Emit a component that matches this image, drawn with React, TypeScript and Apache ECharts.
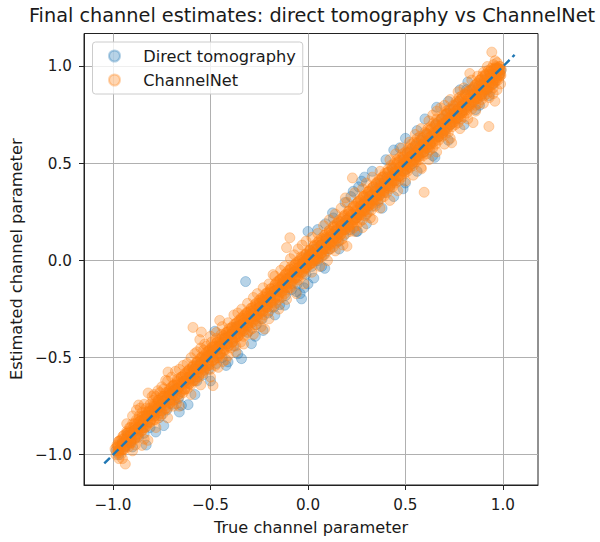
import React, { useEffect, useRef } from "react";
import * as echarts from "echarts";

const TITLE = "Final channel estimates: direct tomography vs ChannelNet";
const X_NAME = "True channel parameter";
const Y_NAME = "Estimated channel parameter";
const TICKS = [-1, -0.5, 0, 0.5, 1];
const IDENTITY = [[-1.045, -1.045], [1.06, 1.06]];

const directPoints = [
[-.985,-.98],[-.97,-1.0],[-.955,-.94],[-.94,-.96],[-.925,-.90],[-.91,-.93],[-.90,-.96],[-.885,-.87],[-.87,-.91],[-.855,-.85],[-.84,-.89],[-.825,-.80],[-.81,-.86],[-.795,-.79],[-.781,-.883],[-.77,-.76],[-.755,-.80],[-.74,-.72],[-.725,-.77],[-.71,-.69],[-.695,-.74],[-.68,-.66],[-.665,-.71],[-.649,-.746],[-.635,-.62],[-.615,-.742],[-.60,-.61],[-.585,-.56],[-.57,-.62],[-.555,-.53],[-.54,-.59],[-.525,-.50],[-.51,-.56],[-.495,-.47],[-.478,-.364],[-.47,-.53],[-.455,-.44],[-.44,-.50],[-.425,-.40],[-.41,-.522],[-.395,-.38],[-.38,-.44],[-.365,-.34],[-.341,-.505],[-.33,-.32],[-.32,-.108],[-.31,-.37],[-.29,-.428],[-.28,-.27],[-.265,-.33],[-.25,-.24],[-.235,-.30],[-.22,-.21],[-.205,-.27],[-.19,-.18],[-.175,-.24],[-.16,-.15],[-.145,-.227],[-.13,-.12],[-.115,-.18],[-.10,-.09],[-.085,-.15],[-.07,-.06],[-.055,-.12],[-.04,-.17],[-.033,-.197],[-.025,-.01],[-.01,-.07],[.005,.03],[.02,-.03],[.035,.06],[.05,.0],[.065,.08],[.08,.03],[.095,.11],[.11,.06],[.126,.246],[.14,.15],[.155,.10],[.17,.18],[.185,.13],[.20,.21],[.215,.16],[.232,.357],[.25,.22],[.254,.151],[.275,.409],[.285,.29],[.30,.24],[.315,.33],[.33,.28],[.345,.37],[.36,.31],[.375,.40],[.39,.35],[.405,.43],[.42,.38],[.435,.47],[.45,.41],[.471,.581],[.488,.37],[.49,.52],[.505,.47],[.52,.56],[.535,.50],[.55,.59],[.565,.54],[.58,.62],[.595,.56],[.61,.65],[.625,.60],[.651,.532],[.655,.70],[.67,.64],[.685,.73],[.70,.67],[.715,.76],[.73,.70],[.745,.78],[.76,.73],[.775,.82],[.79,.77],[.814,.881],[.825,.80],[.84,.88],[.86,.778],[.875,.90],[.89,.85],[.905,.93],[.92,.88],[.935,.96],[.95,.91],[.965,.99],[.98,.96],[.99,.98],
];

const directEdgePoints = [
[-.06,-.16],[-.02,-.14],[.0,-.12],[.03,-.09],[-.12,-.23],[-.17,-.28],[-.23,-.36],[-.27,-.39],[-.36,-.48],[-.42,-.54],[-.50,-.62],[-.58,-.69],[-.66,-.78],[-.74,-.85],[-.83,-.95],[.05,.16],[.0,.15],[.09,.19],[.13,.22],[.19,.30],[.22,.33],[.26,.38],[.29,.43],[.33,.46],[.40,.52],[.44,.57],[.50,.63],[.56,.67],[.60,.73],[.66,.79],[.72,.82],[.78,.88],[.82,.92],[.249,.15],[.30,.19],[.38,.27],[.44,.33],[.50,.40],[.56,.46],[.64,.54],[.72,.62],[.80,.70],[.88,.80],[.93,.85],[.16,.06],[.086,-.04],[.07,-.03],
];

const channelNetPoints = [
[-.99,-.97],[-.985,-1.0],[-.98,-.95],[-.975,-.98],[-.97,-.93],[-.965,-.97],[-.96,-1.0],[-.955,-.92],[-.952,-1.02],[-.95,-.95],[-.945,-.90],[-.94,-.97],[-.937,-1.048],[-.93,-.89],[-.925,-.93],[-.92,-.96],[-.915,-.86],[-.91,-.90],[-.905,-.94],[-.90,-.84],[-.895,-.88],[-.89,-.92],[-.885,-.95],[-.88,-.82],[-.875,-.86],[-.87,-.90],[-.869,-.744],[-.865,-.80],[-.86,-.84],[-.855,-.88],[-.852,-.952],[-.85,-.78],[-.845,-.83],[-.84,-.86],[-.835,-.80],[-.83,-.76],[-.825,-.84],[-.821,-.926],[-.82,-.682],[-.815,-.78],[-.81,-.74],[-.805,-.82],[-.80,-.77],[-.795,-.72],[-.79,-.80],[-.785,-.75],[-.78,-.70],[-.775,-.78],[-.77,-.73],[-.765,-.81],[-.76,-.68],[-.755,-.75],[-.75,-.71],[-.745,-.79],[-.74,-.66],[-.735,-.73],[-.73,-.617],[-.725,-.70],[-.72,-.76],[-.718,-.574],[-.71,-.67],[-.705,-.72],[-.70,-.65],[-.695,-.69],[-.69,-.75],[-.685,-.64],[-.675,-.737],[-.67,-.61],[-.665,-.66],[-.66,-.70],[-.65,-.60],[-.645,-.64],[-.64,-.68],[-.63,-.58],[-.625,-.63],[-.62,-.66],[-.61,-.56],[-.605,-.60],[-.60,-.64],[-.59,-.344],
[-.59,-.54],[-.585,-.59],[-.581,-.479],[-.58,-.62],[-.57,-.52],[-.565,-.56],[-.56,-.60],[-.555,-.407],[-.55,-.50],[-.547,-.368],[-.545,-.55],[-.54,-.58],[-.535,-.46],[-.53,-.51],[-.525,-.55],[-.52,-.44],[-.515,-.49],[-.51,-.53],[-.505,-.46],[-.50,-.56],[-.495,-.42],[-.49,-.48],[-.487,-.644],[-.485,-.51],[-.48,-.44],[-.475,-.54],[-.47,-.40],[-.465,-.46],[-.46,-.50],[-.455,-.42],[-.453,-.308],[-.45,-.48],[-.445,-.38],[-.44,-.44],[-.435,-.52],[-.43,-.40],[-.425,-.46],[-.42,-.37],[-.415,-.43],[-.41,-.49],[-.405,-.35],[-.40,-.40],[-.395,-.45],[-.39,-.37],[-.385,-.42],[-.38,-.33],[-.375,-.40],[-.37,-.44],[-.365,-.35],[-.36,-.39],[-.355,-.31],[-.35,-.37],[-.345,-.42],[-.34,-.30],[-.335,-.35],[-.33,-.39],[-.325,-.28],[-.32,-.33],[-.315,-.38],[-.31,-.27],[-.305,-.32],[-.30,-.36],[-.295,-.26],[-.29,-.30],[-.285,-.35],[-.28,-.24],[-.275,-.29],[-.27,-.33],[-.265,-.23],[-.26,-.28],[-.255,-.31],[-.25,-.22],[-.245,-.26],[-.24,-.30],[-.235,-.20],[-.23,-.25],[-.225,-.28],[-.222,-.352],[-.22,-.19],[-.215,-.24],[-.21,-.17],[-.205,-.22],[-.20,-.26],[-.195,-.16],[-.19,-.21],[-.185,-.24],[-.179,-.072],[-.175,-.14],[-.17,-.19],[-.165,-.22],[-.16,-.11],[-.155,-.16],[-.15,-.20],[-.145,-.10],[-.14,-.15],[-.135,-.19],[-.13,-.09],[-.125,-.13],[-.12,-.17],[-.115,-.07],[-.11,-.12],[-.105,-.15],[-.10,-.05],[-.095,-.10],[-.093,.118],[-.11,.067],[-.09,-.14],[-.085,-.03],[-.08,-.08],[-.075,-.12],[-.07,-.04],[-.065,-.09],[-.06,-.01],[-.055,-.06],[-.05,-.10],[-.045,-.02],[-.04,-.05],[-.035,.02],[-.03,-.03],[-.025,-.07],[-.02,.01],[-.015,-.04],[-.01,.03],[-.005,-.02],[0,.02],[.005,-.02],[.01,.05],[.015,.0],
[.02,.04],[.025,-.01],[.03,.07],[.035,.02],[.04,.0],[.045,.08],[.05,.03],[.055,.01],[.06,.09],[.065,.05],[.07,.02],[.075,.11],[.08,.06],[.085,.03],[.09,.12],[.095,.08],[.10,.05],[.105,.14],[.11,.09],[.115,.06],[.12,.15],[.125,.10],[.13,.07],[.135,.17],[.14,.12],[.145,.09],[.15,.19],[.155,.14],[.16,.10],[.165,.20],[.17,.15],[.175,.11],[.18,.22],[.185,.17],[.192,.323],[.195,.14],[.20,.074],[.205,.24],[.21,.18],[.215,.15],[.22,.25],[.228,.426],[.23,.20],[.235,.17],[.24,.28],[.245,.22],[.25,.18],[.255,.30],[.26,.24],[.265,.20],[.27,.31],[.275,.25],[.28,.21],[.285,.33],[.29,.27],[.295,.23],[.30,.34],[.305,.29],[.31,.25],[.315,.36],[.32,.30],[.325,.26],[.333,.211],[.335,.38],[.34,.32],[.345,.28],[.35,.40],[.355,.34],[.36,.30],[.365,.42],[.37,.36],[.375,.32],[.38,.43],[.385,.38],[.39,.33],[.395,.45],[.40,.39],[.405,.35],[.41,.47],[.415,.41],[.42,.37],[.425,.49],[.43,.43],[.435,.38],[.44,.50],[.445,.45],[.45,.40],[.455,.52],[.46,.46],[.465,.41],[.47,.53],[.475,.48],[.48,.43],[.485,.55],[.49,.50],[.495,.45],[.50,.56],[.505,.51],[.51,.46],[.515,.58],[.52,.53],[.525,.48],[.53,.60],[.535,.54],[.54,.49],[.545,.61],[.55,.56],[.555,.51],[.56,.63],[.565,.57],[.57,.52],[.575,.64],[.582,.473],[.585,.59],[.59,.54],[.596,.352],[.60,.66],[.605,.60],[.61,.55],[.615,.68],[.62,.62],[.625,.57],[.63,.69],[.635,.64],[.64,.58],[.645,.71],[.65,.65],[.655,.60],[.66,.73],[.665,.67],[.67,.62],[.68,.787],[.685,.70],[.69,.64],[.695,.75],[.70,.70],[.705,.65],[.71,.77],[.715,.72],[.72,.66],[.725,.78],[.73,.74],[.737,.607],[.74,.69],[.745,.80],[.75,.75],[.755,.70],[.76,.82],[.765,.77],[.77,.71],[.775,.84],[.78,.78],[.785,.73],[.79,.85],[.795,.80],[.80,.74],[.805,.86],[.81,.81],[.815,.76],[.82,.87],[.83,.964],[.835,.83],[.84,.78],[.847,.711],[.85,.89],[.855,.84],[.86,.80],[.865,.91],[.87,.86],[.875,.81],[.88,.93],[.885,.88],[.89,.83],[.895,.95],[.90,.89],[.905,.85],[.91,.96],[.915,.91],[.92,.86],[.925,.98],[.928,.691],[.93,.92],[.935,.87],[.94,.99],[.943,1.074],[.945,.94],[.95,.89],[.952,1.01],[.955,.96],[.959,.821],[.96,.92],[.965,1.0],[.97,.97],[.975,.93],[.98,.99],[.985,.95],[.988,.91],[.96,1.03],[.97,1.02],[.92,1.0],[.90,.97],
];

const channelNetCore = [
[-.982,-.962],[-.971,-.981],[-.963,-.928],[-.951,-.946],[-.947,-.972],[-.934,-.919],[-.928,-.888],[-.919,-.924],[-.912,-.887],[-.903,-.923],[-.896,-.886],[-.888,-.858],[-.879,-.894],[-.872,-.872],[-.861,-.826],[-.853,-.823],[-.847,-.862],[-.838,-.813],[-.829,-.794],[-.822,-.832],[-.814,-.799],[-.803,-.773],[-.796,-.776],[-.788,-.803],[-.779,-.749],[-.771,-.761],[-.762,-.737],[-.757,-.772],[-.748,-.728],[-.739,-.699],[-.731,-.746],[-.723,-.703],[-.714,-.684],[-.707,-.717],[-.698,-.673],[-.689,-.669],[-.681,-.696],[-.672,-.642],[-.664,-.654],[-.656,-.631],[-.647,-.662],[-.639,-.609],[-.631,-.621],[-.622,-.602],[-.614,-.629],[-.606,-.581],[-.598,-.578],[-.589,-.604],[-.581,-.556],[-.572,-.542],[-.564,-.574],[-.556,-.536],[-.548,-.523],[-.539,-.554],[-.531,-.506],[-.523,-.493],[-.514,-.529],[-.506,-.486],[-.498,-.473],[-.489,-.499],[-.481,-.461],[-.473,-.443],[-.464,-.479],[-.456,-.431],[-.447,-.427],[-.439,-.454],[-.431,-.411],[-.422,-.392],[-.414,-.429],[-.406,-.381],[-.397,-.387],[-.389,-.404],[-.381,-.361],[-.372,-.342],[-.364,-.379],[-.356,-.331],[-.347,-.342],[-.339,-.354],[-.331,-.306],[-.322,-.297],[-.314,-.334],[-.306,-.286],[-.297,-.292],[-.289,-.309],[-.281,-.256],[-.272,-.257],[-.264,-.284],[-.256,-.236],[-.247,-.242],[-.239,-.259],[-.231,-.206],[-.222,-.207],[-.214,-.234],[-.206,-.186],[-.197,-.192],[-.189,-.209],[-.181,-.161],[-.172,-.157],[-.164,-.184],[-.156,-.136],[-.147,-.142],[-.139,-.159],[-.131,-.111],[-.122,-.107],[-.114,-.134],[-.106,-.091],[-.097,-.092],[-.089,-.109],[-.081,-.061],[-.072,-.057],[-.064,-.084],[-.056,-.041],[-.047,-.052],[-.039,-.059],[-.031,-.011],[-.022,-.012],[-.014,-.034],[-.006,.009],[.003,-.002],[.011,-.014],[.019,.034],[.028,.013],[.036,.011],[.044,.059],[.053,.043],[.061,.036],[.069,.084],[.078,.063],[.086,.066],[.094,.114],[.103,.088],[.111,.091],[.119,.134],[.128,.113],[.136,.116],[.144,.159],[.153,.138],[.161,.141],[.169,.184],[.178,.163],[.186,.161],[.194,.209],[.203,.188],[.211,.186],[.219,.234],[.228,.213],[.236,.211],[.244,.259],[.253,.238],[.261,.236],[.269,.284],[.278,.263],[.286,.261],[.294,.309],[.303,.288],[.311,.286],[.319,.334],[.328,.313],[.336,.311],[.344,.359],[.353,.338],[.361,.336],[.369,.384],[.378,.363],[.386,.361],[.394,.409],[.403,.388],[.411,.386],[.419,.434],[.428,.413],[.436,.411],[.444,.459],[.453,.438],[.461,.436],[.469,.484],[.478,.463],[.486,.461],[.494,.509],[.503,.488],[.511,.486],
[.519,.534],[.528,.508],[.536,.516],[.544,.559],[.553,.528],[.561,.541],[.569,.584],[.578,.553],[.586,.566],[.594,.609],[.603,.578],[.611,.591],[.619,.634],[.628,.603],[.636,.616],[.644,.659],[.653,.628],[.661,.641],[.669,.684],[.678,.653],[.686,.666],[.694,.709],[.703,.678],[.711,.691],[.719,.734],[.728,.703],[.736,.716],[.744,.759],[.753,.728],[.761,.741],[.769,.784],[.778,.753],[.786,.766],[.794,.809],[.803,.778],[.811,.791],[.819,.834],[.828,.803],[.836,.816],[.844,.859],[.853,.828],[.861,.841],[.869,.884],[.878,.853],[.886,.866],[.894,.909],[.903,.878],[.911,.891],[.919,.934],[.928,.903],[.936,.916],[.944,.959],[.953,.928],[.961,.941],[.969,.984],[.978,.953],[.986,.966],[.992,.985],[.975,.975],[.965,.96],[.95,.95],[.94,.94],[.93,.93],
];

const channelNetBand = [
[-.976,-.955],[-.958,-.975],[-.942,-.915],[-.936,-.95],[-.921,-.885],[-.907,-.935],[-.893,-.855],[-.881,-.91],[-.868,-.83],[-.857,-.87],[-.842,-.80],[-.833,-.86],[-.818,-.775],[-.809,-.83],[-.792,-.75],[-.783,-.82],[-.767,-.72],[-.758,-.785],[-.744,-.70],[-.733,-.765],[-.717,-.675],[-.708,-.735],[-.691,-.645],[-.682,-.715],[-.668,-.625],[-.659,-.685],[-.642,-.595],[-.633,-.665],[-.617,-.57],[-.608,-.635],[-.593,-.55],[-.583,-.615],[-.568,-.525],[-.558,-.59],[-.543,-.495],[-.533,-.565],[-.518,-.47],[-.508,-.54],[-.492,-.445],[-.483,-.515],[-.467,-.42],[-.458,-.49],[-.442,-.395],[-.433,-.465],[-.417,-.37],[-.408,-.44],[-.392,-.345],[-.383,-.415],[-.367,-.32],[-.358,-.39],[-.342,-.295],[-.333,-.365],[-.317,-.27],[-.308,-.34],[-.292,-.245],[-.283,-.315],[-.267,-.22],[-.258,-.29],[-.242,-.195],[-.233,-.265],[-.217,-.17],[-.208,-.24],[-.192,-.145],[-.183,-.215],[-.167,-.12],[-.158,-.19],[-.142,-.095],[-.133,-.165],[-.117,-.07],[-.108,-.14],[-.092,-.045],[-.083,-.115],[-.067,-.02],[-.058,-.09],[-.042,.005],[-.033,-.065],[-.017,.03],[-.008,-.04],[.008,.055],[.017,-.015],[.033,.08],[.042,.01],[.058,.105],[.067,.035],[.083,.13],[.092,.06],[.108,.155],[.117,.085],[.133,.18],[.142,.11],[.158,.205],[.167,.135],[.183,.23],[.192,.16],[.208,.255],[.217,.185],[.233,.28],[.242,.21],[.258,.305],[.267,.235],[.283,.33],[.292,.26],[.308,.355],[.317,.285],[.333,.38],[.342,.31],[.358,.405],[.367,.335],[.383,.43],[.392,.36],[.408,.455],[.417,.385],[.433,.48],[.442,.41],[.458,.505],[.467,.435],[.483,.53],[.492,.46],[.508,.555],[.517,.485],[.533,.58],[.542,.51],[.558,.605],[.567,.535],[.583,.63],[.592,.56],[.608,.655],[.617,.585],[.633,.68],[.642,.61],[.658,.705],[.667,.635],[.683,.73],[.692,.66],[.708,.755],[.717,.685],[.733,.78],[.742,.71],[.758,.805],[.767,.735],[.783,.83],[.792,.76],[.808,.855],[.817,.785],[.833,.88],[.842,.81],[.858,.905],[.867,.835],[.883,.93],[.892,.86],[.908,.95],[.917,.885],[.933,.975],[.942,.905],[.958,.99],[.967,.93],[.983,1.0],[.99,.955],
];

const channelNetInner = [
[-.97,-.93],[-.97,-.96],[-.97,-.99],[-.95,-.905],[-.95,-.94],[-.95,-.975],[-.93,-.88],[-.93,-.92],[-.93,-.955],[-.91,-.86],[-.91,-.90],[-.91,-.94],[-.89,-.84],[-.89,-.875],[-.89,-.915],[-.87,-.82],[-.87,-.86],[-.87,-.895],[-.85,-.80],[-.85,-.84],[-.85,-.875],[-.83,-.78],[-.83,-.815],[-.83,-.855],[-.81,-.76],[-.81,-.80],[-.81,-.835],[-.79,-.74],[-.79,-.78],[-.79,-.82],[-.77,-.72],[-.77,-.755],[-.77,-.80],[-.75,-.70],[-.75,-.74],[-.75,-.775],[-.73,-.68],[-.73,-.72],[-.73,-.76],[-.71,-.66],[-.71,-.695],[-.71,-.735],[-.69,-.64],[-.69,-.68],[-.69,-.72],[-.67,-.62],[-.67,-.66],[-.67,-.695],[-.65,-.60],[-.65,-.635],[-.65,-.675],[-.63,-.585],[-.63,-.62],[-.63,-.66],[-.61,-.565],[-.61,-.60],[-.61,-.635],[-.59,-.545],[-.59,-.575],[-.59,-.62],[-.57,-.525],[-.57,-.56],[-.57,-.60],[-.55,-.505],[-.55,-.54],[-.55,-.575],[-.53,-.485],[-.53,-.515],[-.53,-.56],[-.51,-.465],[-.51,-.50],[-.51,-.54],[-.49,-.445],[-.49,-.48],[-.49,-.515],[-.47,-.425],[-.47,-.455],[-.47,-.50],[-.45,-.405],[-.45,-.44],[-.45,-.48],[-.43,-.385],[-.43,-.42],[-.43,-.455],[-.41,-.365],[-.41,-.395],[-.41,-.44],[-.39,-.345],[-.39,-.38],[-.39,-.42],[-.37,-.325],[-.37,-.36],[-.37,-.395],[-.35,-.305],[-.35,-.335],[-.35,-.38],[-.33,-.285],[-.33,-.32],[-.33,-.36],[-.31,-.265],[-.31,-.30],[-.31,-.335],[-.29,-.245],[-.29,-.275],[-.29,-.32],[-.27,-.225],[-.27,-.26],[-.27,-.30],[-.25,-.205],[-.25,-.24],[-.25,-.275],[-.23,-.185],[-.23,-.215],[-.23,-.26],[-.21,-.165],[-.21,-.20],[-.21,-.24],[-.19,-.145],[-.19,-.18],[-.19,-.215],[-.17,-.125],[-.17,-.155],[-.17,-.20],[-.15,-.105],[-.15,-.14],[-.15,-.18],[-.13,-.085],[-.13,-.12],[-.13,-.155],[-.11,-.065],[-.11,-.095],[-.11,-.14],[-.09,-.045],[-.09,-.08],[-.09,-.12],[-.07,-.025],[-.07,-.06],[-.07,-.095],[-.05,-.005],[-.05,-.035],[-.05,-.08],[-.03,.015],[-.03,-.02],[-.03,-.06],[-.01,.035],[-.01,.0],[-.01,-.035],
[.01,.055],[.01,.02],[.01,-.02],[.03,.075],[.03,.04],[.03,.0],[.05,.095],[.05,.06],[.05,.02],[.07,.115],[.07,.08],[.07,.04],[.09,.135],[.09,.10],[.09,.06],[.11,.155],[.11,.12],[.11,.08],[.13,.175],[.13,.135],[.13,.10],[.15,.195],[.15,.16],[.15,.115],[.17,.215],[.17,.18],[.17,.135],[.19,.235],[.19,.195],[.19,.16],[.21,.255],[.21,.22],[.21,.175],[.23,.275],[.23,.24],[.23,.195],[.25,.295],[.25,.255],[.25,.22],[.27,.315],[.27,.28],[.27,.235],[.29,.335],[.29,.30],[.29,.255],[.31,.355],[.31,.315],[.31,.28],[.33,.375],[.33,.34],[.33,.295],[.35,.395],[.35,.36],[.35,.315],[.37,.415],[.37,.375],[.37,.34],[.39,.435],[.39,.40],[.39,.355],[.41,.455],[.41,.42],[.41,.375],[.43,.475],[.43,.435],[.43,.40],[.45,.495],[.45,.46],[.45,.415],[.47,.515],[.47,.48],[.47,.435],[.49,.535],[.49,.495],[.49,.46],[.51,.555],[.51,.52],[.51,.475],[.53,.575],[.53,.54],[.53,.495],[.55,.595],[.55,.555],[.55,.52],[.57,.615],[.57,.58],[.57,.535],[.59,.635],[.59,.60],[.59,.555],[.61,.655],[.61,.615],[.61,.58],[.63,.675],[.63,.64],[.63,.595],[.65,.695],[.65,.66],[.65,.615],[.67,.715],[.67,.675],[.67,.64],[.69,.735],[.69,.70],[.69,.655],[.71,.755],[.71,.72],[.71,.675],[.73,.775],[.73,.735],[.73,.70],[.75,.795],[.75,.76],[.75,.715],[.77,.815],[.77,.78],[.77,.735],[.79,.835],[.79,.795],[.79,.76],[.81,.855],[.81,.82],[.81,.775],[.83,.875],[.83,.84],[.83,.795],[.85,.895],[.85,.855],[.85,.82],[.87,.915],[.87,.88],[.87,.835],[.89,.935],[.89,.90],[.89,.855],[.91,.955],[.91,.915],[.91,.88],[.93,.97],[.93,.94],[.93,.895],[.95,.985],[.95,.96],[.95,.915],[.97,.995],[.97,.975],[.97,.94],[.985,1.0],[.985,.985],[.985,.96],
];

const channelNetEdge = [
[-.93,-.84],[-.90,-.80],[-.88,-.77],[-.86,-.76],[-.84,-.74],[-.80,-.70],[-.79,-.69],[-.77,-.67],[-.75,-.65],[-.72,-.62],[-.70,-.60],[-.68,-.57],[-.66,-.56],[-.64,-.54],[-.62,-.53],[-.60,-.50],[-.57,-.47],[-.55,-.45],[-.53,-.43],[-.50,-.39],[-.47,-.37],[-.44,-.34],[-.41,-.32],[-.38,-.28],[-.36,-.27],[-.34,-.25],[-.31,-.22],[-.28,-.19],[-.26,-.17],[-.23,-.14],[-.20,-.12],[-.17,-.08],[-.14,-.05],[-.12,-.03],[-.09,.01],[-.07,.03],[-.05,.06],[-.03,.08],[-.01,.10],[.02,.12],[.05,.14],[.08,.18],[.11,.21],[.14,.24],[.17,.27],[.20,.30],[.24,.35],[.28,.37],[.30,.40],[.33,.43],[.37,.46],[.42,.52],[.45,.55],[.48,.58],[.52,.61],[.55,.65],[.58,.68],[.62,.72],[.64,.75],[.66,.77],[.70,.80],[.73,.83],[.77,.87],[.80,.89],[.84,.93],[.87,.95],
[-.97,-1.02],[-.90,-.98],[-.84,-.92],[-.78,-.86],[-.72,-.81],[-.66,-.75],[-.60,-.69],[-.55,-.64],[-.50,-.60],[-.46,-.55],[-.42,-.51],[-.37,-.47],[-.33,-.43],[-.28,-.38],[-.24,-.34],[-.20,-.30],[-.15,-.25],[-.11,-.20],[-.06,-.17],[-.02,-.12],[.02,-.06],[.06,-.03],[.10,.0],[.14,.05],[.18,.08],[.24,.15],[.28,.17],[.32,.22],[.37,.27],[.42,.31],[.46,.36],[.50,.41],[.54,.44],[.58,.48],[.62,.52],[.66,.56],[.70,.60],[.73,.63],[.78,.68],[.82,.73],[.86,.77],[.90,.81],[.93,.84],[.95,.86],[.97,.88],
];

const FONT = "DejaVu Sans";
const BLUE = "rgba(31,119,180,0.4)";
const ORANGE = "rgba(255,127,14,0.4)";
const LINE = "#1f77b4";
const fmt = (v: number) => v.toFixed(1).replace("-", "\u2212");

export default function App() {
  const ref = useRef<HTMLDivElement>(null);
  useEffect(() => {
    document.body.style.margin = "0";
    const chart = echarts.init(ref.current!, null, { renderer: "svg" });
    const axis = (min: number, max: number, name: string, gap: number) => ({
      type: "value", min, max, name, nameLocation: "middle", nameGap: gap,
      nameTextStyle: { fontFamily: FONT, fontSize: 16.2, color: "#1a1a1a" },
      axisLine: { show: true, onZero: false, lineStyle: { color: "#222", width: 1 } },
      axisTick: { show: true, length: 5, customValues: TICKS, lineStyle: { color: "#222", width: 1 } },
      axisLabel: { show: true, customValues: TICKS, formatter: fmt, margin: 12, fontFamily: FONT, fontSize: 15.2, color: "#1a1a1a" },
      splitLine: { show: true, lineStyle: { color: "#b0b0b0", width: 1 } },
    });
    chart.setOption({
      animation: false,
      backgroundColor: "#fff",
      title: {
        text: TITLE, left: 307, top: 1, textAlign: "center",
        textStyle: { fontFamily: FONT, fontSize: 19.3, fontWeight: "normal", color: "#1a1a1a" },
      },
      grid: { left: 84, right: 62, top: 33.5, bottom: 57, show: true, borderColor: "#222", borderWidth: 1, backgroundColor: "transparent" },
      xAxis: axis(-1.149, 1.18, X_NAME, 34),
      yAxis: axis(-1.156, 1.17, Y_NAME, 60),
      legend: {
        data: ["Direct tomography", "ChannelNet"], orient: "vertical", left: 92.5, top: 42, padding: [6, 7, 6, 15.5], itemGap: 8,
        itemWidth: 29.5, itemHeight: 11, icon: "circle",
        backgroundColor: "rgba(255,255,255,0.8)", borderColor: "#ccc", borderWidth: 1, borderRadius: 3,
        textStyle: { fontFamily: FONT, fontSize: 16.2, color: "#1a1a1a", padding: [0, 0, 0, 9] },
      },
      series: [
        { type: "scatter", name: "Direct tomography", data: [...directPoints, ...directEdgePoints], symbolSize: 10, itemStyle: { color: BLUE, borderColor: BLUE, borderWidth: 1 }, z: 3 },
        { type: "scatter", name: "ChannelNet", data: [...channelNetPoints, ...channelNetCore, ...channelNetBand, ...channelNetInner, ...channelNetEdge], symbolSize: 10, itemStyle: { color: ORANGE, borderColor: ORANGE, borderWidth: 1 }, z: 4 },
        { type: "line", name: "Identity", data: IDENTITY, showSymbol: false, lineStyle: { color: LINE, width: 2.4, type: [8, 4] }, z: 5 },
      ],
    });
    return () => chart.dispose();
  }, []);
  return <div ref={ref} style={{ width: 600, height: 542 }} />;
}
